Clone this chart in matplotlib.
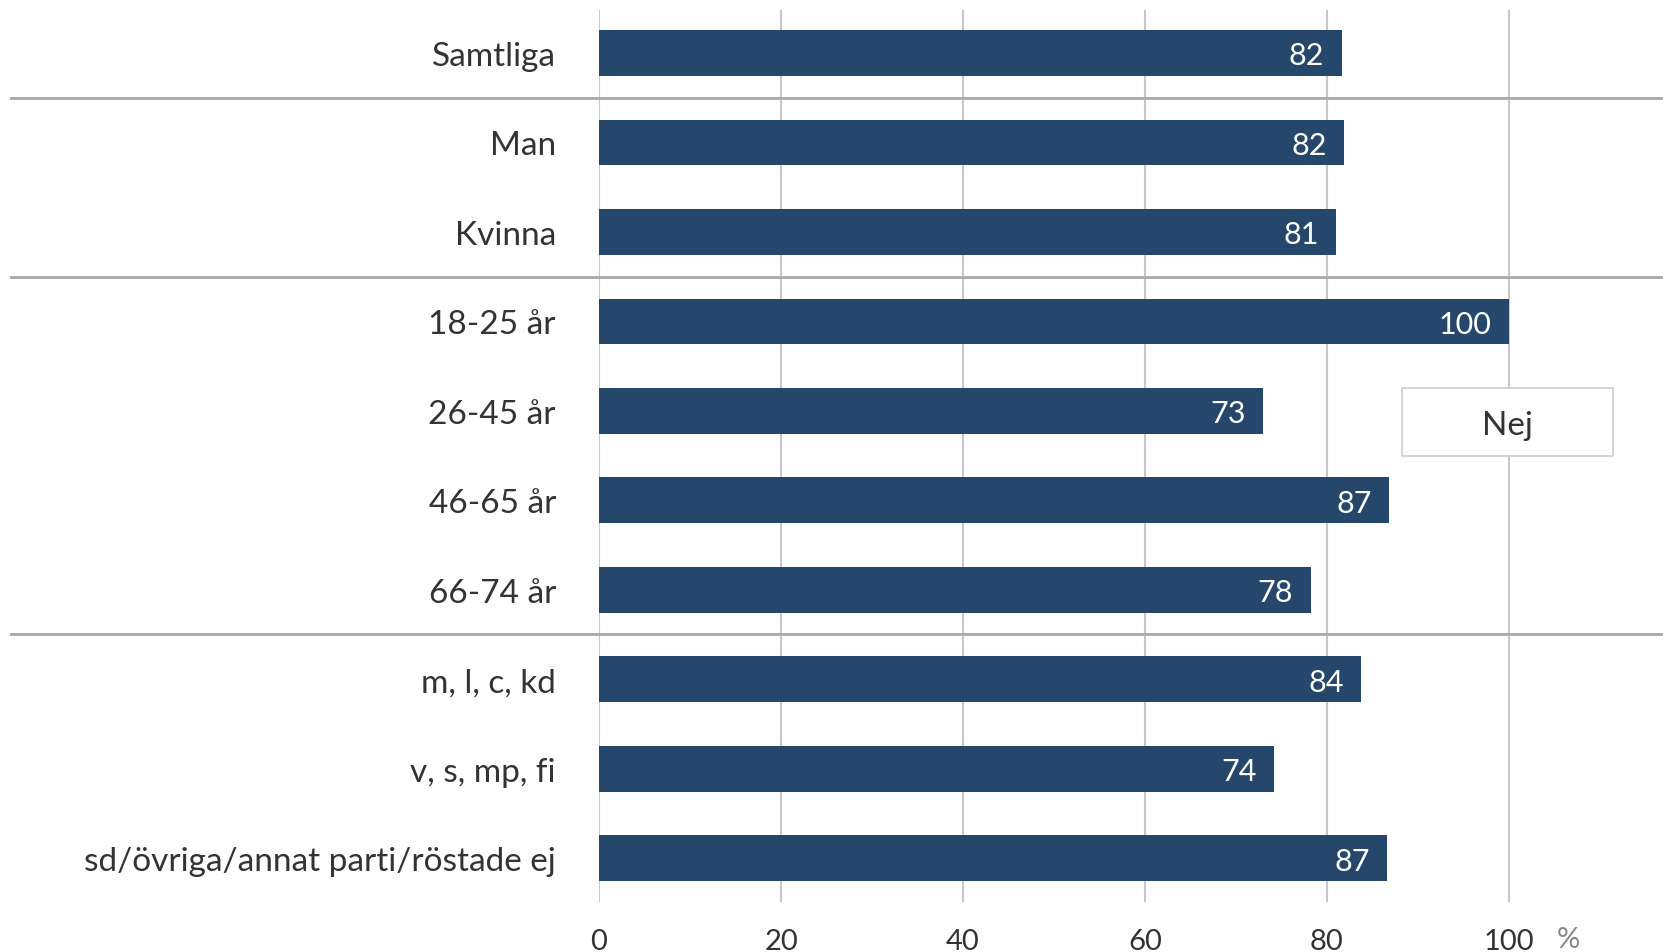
import matplotlib
matplotlib.use("Agg")
import matplotlib.pyplot as plt
import matplotlib.transforms as mtransforms
from matplotlib.patches import Rectangle
from matplotlib.lines import Line2D

categories = ["Samtliga", "Man", "Kvinna", "18-25 år", "26-45 år", "46-65 år",
              "66-74 år", "m, l, c, kd", "v, s, mp, fi",
              "sd/övriga/annat parti/röstade ej"]
values = [81.6, 81.9, 81.0, 100.0, 73.0, 86.8, 78.2, 83.7, 74.2, 86.6]
value_labels = ["82", "82", "81", "100", "73", "87", "78", "84", "74", "87"]
xticks = [0, 20, 40, 60, 80, 100]
series_name = "Nej"
separators_after = [0, 2, 6]

plt.rcParams['font.family'] = ['Lato', 'DejaVu Sans']
BAR = "#24476b"
TXT = "#333333"

W, H = 1663, 953
fig = plt.figure(figsize=(W / 100, H / 100), dpi=100)
left, right, top, bottom = 599, 1663, 11, 903
ax = fig.add_axes([left / W, 1 - bottom / H, (right - left) / W, (bottom - top) / H])

n = len(categories)
ypos = list(range(n))
ax.barh(ypos, values, height=0.51, color=BAR, zorder=3)
for y, v, lab in zip(ypos, values, value_labels):
    ax.text(v - 1.9, y, lab, color="white", ha="right", va="center_baseline",
            fontsize=22, zorder=4)

ax.set_xlim(0, (right - left) / 9.1)
ax.set_ylim(n - 0.51, -0.48)
ax.set_xticks(xticks)
ax.set_xticklabels([str(t) for t in xticks])
ax.set_yticks(ypos)
ax.set_yticklabels(categories)
for lbl in ax.get_yticklabels():
    lbl.set_va("center_baseline")
ax.tick_params(axis="y", length=0, pad=31, labelsize=24, labelcolor=TXT)
ax.tick_params(axis="x", length=0, pad=19, labelsize=21, labelcolor=TXT)
for s in ax.spines.values():
    s.set_visible(False)
ax.grid(False)
for t in xticks:
    ax.axvline(t, color="#c8c8c8", lw=1.5, zorder=1)

fig.text(1568 / W, 1 - 940 / H, "%", color="#888888",
         fontsize=21, ha="center", va="center")

trans = mtransforms.blended_transform_factory(fig.transFigure, ax.transData)
for i in separators_after:
    yy = i + 0.5
    fig.add_artist(Line2D([10.6 / W, 1.0], [yy, yy], transform=trans,
                          color="#a8a8a8", lw=2, zorder=2))

# legend box
lx0, lx1, ly0, ly1 = 1402, 1613, 389, 457
fig.add_artist(Rectangle((lx0 / W, 1 - ly1 / H), (lx1 - lx0) / W, (ly1 - ly0) / H,
                         transform=fig.transFigure, facecolor="white",
                         edgecolor="#cccccc", lw=1.2, zorder=5))
fig.text((lx0 + lx1) / 2 / W, 1 - (ly0 + ly1) / 2 / H, series_name,
         ha="center", va="center_baseline", fontsize=24, color=TXT, zorder=6)

fig.savefig("out.png", dpi=100)
